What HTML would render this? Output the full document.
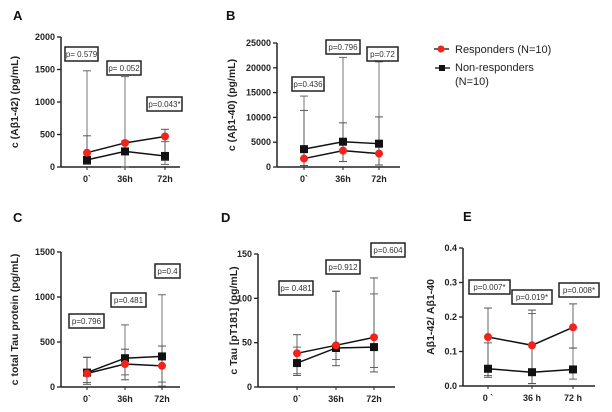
<!DOCTYPE html>
<html><head><meta charset="utf-8"><style>
body{margin:0;background:#fff;}
svg{display:block;font-family:"Liberation Sans",Arial,sans-serif;}
.t{font-size:9px;font-weight:bold;fill:#222}
.lab{font-size:10.5px;font-weight:bold;fill:#222}
.let{font-size:13px;font-weight:bold;fill:#111}
.pbox rect{fill:#fff;stroke:#222;stroke-width:1.5}
.pbox text{font-size:8px;fill:#333;text-anchor:middle}
</style></head><body>
<svg id="c" width="612" height="412">
<g id="plots"></g>
<g id="pboxes">
<g class="pbox"><rect x="65" y="47" width="33" height="14"/><text x="81.5" y="57">p= 0.579</text></g>
<g class="pbox"><rect x="107" y="61" width="34" height="14"/><text x="124" y="71">p= 0.052</text></g>
<g class="pbox"><rect x="147" y="97" width="35" height="14"/><text x="164.5" y="107">p=0.043*</text></g>
<g class="pbox"><rect x="292" y="77" width="32" height="14"/><text x="308" y="87">p=0.436</text></g>
<g class="pbox"><rect x="326" y="40" width="34" height="14"/><text x="343" y="50">p=0.796</text></g>
<g class="pbox"><rect x="367" y="47" width="31" height="14"/><text x="382.5" y="57">p=0.72</text></g>
<g class="pbox"><rect x="69" y="314" width="35" height="14"/><text x="86.5" y="324">p=0.796</text></g>
<g class="pbox"><rect x="111" y="293" width="35" height="14"/><text x="128.5" y="303">p=0.481</text></g>
<g class="pbox"><rect x="155" y="264" width="25" height="14"/><text x="167.5" y="274">p=0.4</text></g>
<g class="pbox"><rect x="279" y="281" width="34" height="14"/><text x="296" y="291">p= 0.481</text></g>
<g class="pbox"><rect x="326" y="260" width="34" height="14"/><text x="343" y="270">p=0.912</text></g>
<g class="pbox"><rect x="371" y="243" width="34" height="14"/><text x="388" y="253">p=0.604</text></g>
<g class="pbox"><rect x="469" y="280" width="41" height="14"/><text x="489.5" y="290">p=0.007*</text></g>
<g class="pbox"><rect x="512" y="290" width="40" height="14"/><text x="532" y="300">p=0.019*</text></g>
<g class="pbox"><rect x="559" y="283" width="40" height="14"/><text x="579" y="293">p=0.008*</text></g>
</g>
<g>
<line x1="434" y1="49" x2="449" y2="49" stroke="#111" stroke-width="1.3"/>
<circle cx="441" cy="49" r="3.5" fill="#f2231a"/>
<text x="455" y="53" style="font-size:11px;fill:#222">Responders (N=10)</text>
<line x1="435" y1="68" x2="450" y2="68" stroke="#111" stroke-width="1.3"/>
<rect x="439" y="65" width="6" height="6" fill="#111"/>
<text x="455" y="71" style="font-size:11px;fill:#222">Non-responders</text>
<text x="455" y="85" style="font-size:11px;fill:#222">(N=10)</text>
</g>
</svg>
<script>
const cats=["0`","36h","72h"];
const catsE=["0 `","36 h","72 h"];
const aResp=[220,370,470], aNon=[110,240,170];
const aRespHi=[480,400,580], aRespLo=[50,200,100], aNonHi=[1480,1390,390], aNonLo=[40,0,40];
const bResp=[1700,3300,2700], bNon=[3600,5100,4700];
const bRespHi=[11400,8900,10100], bRespLo=[300,1100,400], bNonHi=[14300,22100,21200], bNonLo=[300,1100,400];
const cResp=[150,255,235], cNon=[160,320,340];
const cRespHi=[330,420,455], cRespLo=[30,80,10], cNonHi=[330,690,1025], cNonLo=[50,135,55];
const dResp=[38,47,56], dNon=[27,44,45];
const dRespHi=[59,108,123], dRespLo=[13,24,17], dNonHi=[45,108,105], dNonLo=[15,31,22];
const eResp=[0.142,0.118,0.170], eNon=[0.050,0.040,0.048];
const eRespHi=[0.226,0.220,0.238], eRespLo=[0.03,0.007,0.11], eNonHi=[0.125,0.210,0.110], eNonLo=[0.025,0.007,0.02];
const aTicks=[0,500,1000,1500,2000], bTicks=[0,5000,10000,15000,20000,25000], cTicks=[0,500,1000,1500], dTicks=[0,50,100,150], eTicks=["0.0","0.1","0.2","0.3","0.4"];
const NS="http://www.w3.org/2000/svg", svg=document.getElementById('plots');
function mk(t,a,txt,p){const e=document.createElementNS(NS,t);for(const k in a)e.setAttribute(k,a[k]);if(txt!==undefined&&txt!==null)e.textContent=txt;(p||svg).appendChild(e);return e;}
function panel(o){
 const g=mk('g',{});
 
 
 const y=v=>o.y1-(v-o.min)/(o.max-o.min)*(o.y1-o.y0);
 const l=mk('text',{x:o.lx,y:o.ly,class:'let'},o.id.toUpperCase(),g);
 
 mk('line',{x1:o.ax,y1:o.y0,x2:o.ax,y2:o.y1+0.5,stroke:'#222','stroke-width':1.5},g);
 mk('line',{x1:o.ax,y1:o.y1,x2:o.xe,y2:o.y1,stroke:'#222','stroke-width':1.5},g);
 o.ticks.forEach(tv=>{const v=parseFloat(tv),yy=y(v);
  mk('line',{x1:o.ax-4,y1:yy,x2:o.ax,y2:yy,stroke:'#222','stroke-width':1.3},g);
  const t=mk('text',{x:o.ax-6,y:yy+3,class:'t','text-anchor':'end'},String(tv),g);
  });
 o.cats.forEach((c,i)=>{const t=mk('text',{x:o.cx[i],y:o.y1+15,class:'t','text-anchor':'middle'},c,g);
  
  mk('line',{x1:o.cx[i],y1:o.y1,x2:o.cx[i],y2:o.y1+3,stroke:'#222'},g);});
 const yl=mk('text',{x:0,y:0,class:'lab','text-anchor':'middle',transform:`translate(${o.ylx},${(o.y0+o.y1)/2}) rotate(-90)`},o.ylabel,g);
 
 function err(hi,lo,col){o.cx.forEach((x,i)=>{
  mk('line',{x1:x,y1:y(hi[i]),x2:x,y2:y(lo[i]),stroke:col,'stroke-width':0.9},g);
  [hi[i],lo[i]].forEach(v=>mk('line',{x1:x-4,y1:y(v),x2:x+4,y2:y(v),stroke:col,'stroke-width':1},g));});}
 err(o.nHi,o.nLo,'#666');err(o.rHi,o.rLo,'#555');
 function series(vals,sq,name){
  mk('polyline',{points:o.cx.map((x,i)=>x+','+y(vals[i])).join(' '),fill:'none',stroke:'#111','stroke-width':1.5},g);
  vals.forEach((v,i)=>{let m;
   if(sq)m=mk('rect',{x:o.cx[i]-4,y:y(v)-4,width:8,height:8,fill:'#111'},g);
   else m=mk('circle',{cx:o.cx[i],cy:y(v),r:4,fill:'#f2231a'},g);
   });}
 series(o.non,true,'non-responders');series(o.resp,false,'responders');
}
panel({id:'a',lx:13,ly:20,ax:61,y0:37,y1:167,xe:180,min:0,max:2000,ticks:aTicks,cats:cats,cx:[87,125,165],ylx:18,ylabel:'c (Aβ1-42)  (pg/mL)',
 resp:aResp,non:aNon,rHi:aRespHi,rLo:aRespLo,nHi:aNonHi,nLo:aNonLo});
panel({id:'b',lx:226,ly:20,ax:277,y0:43,y1:167,xe:400,min:0,max:25000,ticks:bTicks,cats:cats,cx:[304,343,379],ylx:235,ylabel:'c (Aβ1-40) (pg/mL)',
 resp:bResp,non:bNon,rHi:bRespHi,rLo:bRespLo,nHi:bNonHi,nLo:bNonLo});
panel({id:'c',lx:13,ly:222,ax:61,y0:252,y1:387,xe:180,min:0,max:1500,ticks:cTicks,cats:cats,cx:[87,125,162],ylx:18,ylabel:'c total Tau protein (pg/mL)',
 resp:cResp,non:cNon,rHi:cRespHi,rLo:cRespLo,nHi:cNonHi,nLo:cNonLo});
panel({id:'d',lx:221,ly:222,ax:258,y0:254,y1:387,xe:395,min:0,max:150,ticks:dTicks,cats:cats,cx:[297,336,374],ylx:237,ylabel:'c Tau [pT181]  (pg/mL)',
 resp:dResp,non:dNon,rHi:dRespHi,rLo:dRespLo,nHi:dNonHi,nLo:dNonLo});
panel({id:'e',lx:463,ly:221,ax:463,y0:248,y1:386,xe:595,min:0,max:0.4,ticks:eTicks,cats:catsE,cx:[488,532,573],ylx:434,ylabel:'Aβ1-42/ Aβ1-40',
 resp:eResp,non:eNon,rHi:eRespHi,rLo:eRespLo,nHi:eNonHi,nLo:eNonLo});
</script>
</body></html>
